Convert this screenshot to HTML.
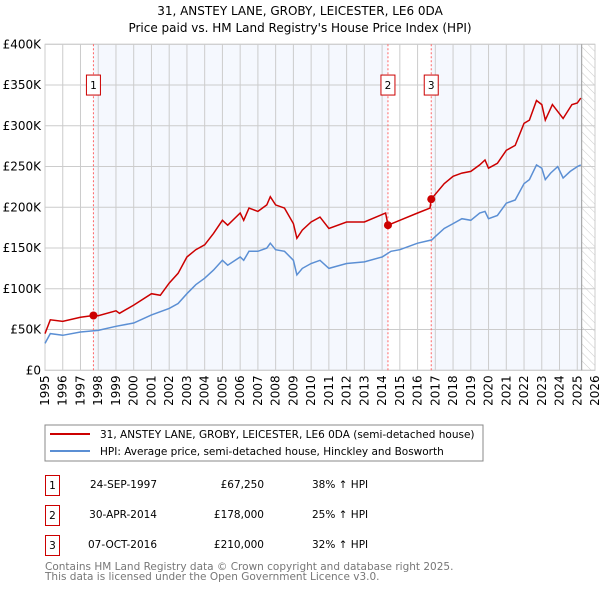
<!DOCTYPE html>
<html><head><meta charset="utf-8"><style>
body{margin:0;background:#fff;font-family:"DejaVu Sans","Liberation Sans",sans-serif;}
svg text{font-family:"DejaVu Sans","Liberation Sans",sans-serif;}
</style></head><body>
<svg id="c" width="600" height="590" xmlns="http://www.w3.org/2000/svg">
<defs><pattern id="hatch" width="6" height="6" patternUnits="userSpaceOnUse" patternTransform="rotate(-45)"><line x1="0" y1="0" x2="0" y2="6" stroke="#ccc" stroke-width="1"/></pattern></defs>
<text x="300" y="15" text-anchor="middle" font-size="12" fill="#000">31, ANSTEY LANE, GROBY, LEICESTER, LE6 0DA</text>
<text x="300" y="32" text-anchor="middle" font-size="12" fill="#000">Price paid vs. HM Land Registry's House Price Index (HPI)</text>
<g id="plot"></g>
<rect x="45" y="425" width="438" height="36" fill="#fff" stroke="#888"/>
<line x1="50" y1="434" x2="90" y2="434" stroke="#cc0000" stroke-width="2"/>
<text x="100" y="438" font-size="10.5">31, ANSTEY LANE, GROBY, LEICESTER, LE6 0DA (semi-detached house)</text>
<line x1="50" y1="451" x2="90" y2="451" stroke="#5b8fd4" stroke-width="2"/>
<text x="100" y="455" font-size="10.5">HPI: Average price, semi-detached house, Hinckley and Bosworth</text>
<g font-size="10.5">
<rect x="45.5" y="475.5" width="14" height="20" fill="none" stroke="#cc0000"/><text x="52.5" y="489" text-anchor="middle">1</text>
<text x="157" y="488" text-anchor="end">24-SEP-1997</text><text x="264" y="488" text-anchor="end">£67,250</text><text x="312" y="488">38% ↑ HPI</text>
<rect x="45.5" y="505.5" width="14" height="20" fill="none" stroke="#cc0000"/><text x="52.5" y="519" text-anchor="middle">2</text>
<text x="157" y="518" text-anchor="end">30-APR-2014</text><text x="264" y="518" text-anchor="end">£178,000</text><text x="312" y="518">25% ↑ HPI</text>
<rect x="45.5" y="535.5" width="14" height="20" fill="none" stroke="#cc0000"/><text x="52.5" y="549" text-anchor="middle">3</text>
<text x="157" y="548" text-anchor="end">07-OCT-2016</text><text x="264" y="548" text-anchor="end">£210,000</text><text x="312" y="548">32% ↑ HPI</text>
</g>
<text x="45" y="570" font-size="10.5" fill="#777">Contains HM Land Registry data © Crown copyright and database right 2025.</text>
<text x="45" y="580" font-size="10.5" fill="#777">This data is licensed under the Open Government Licence v3.0.</text>
</svg>
<script>
const yTicks=[0,50,100,150,200,250,300,350,400];
const yTickLabels=["£0","£50K","£100K","£150K","£200K","£250K","£300K","£350K","£400K"];
const xYears=[1995,1996,1997,1998,1999,2000,2001,2002,2003,2004,2005,2006,2007,2008,2009,2010,2011,2012,2013,2014,2015,2016,2017,2018,2019,2020,2021,2022,2023,2024,2025,2026];
const hpiT=[1995.0,1995.3,1996,1997,1998,1999,2000,2001,2002,2002.5,2003,2003.5,2004,2004.5,2005,2005.3,2006,2006.2,2006.5,2007,2007.5,2007.7,2008,2008.5,2009,2009.2,2009.5,2010,2010.5,2011,2012,2013,2014,2014.5,2015,2016,2016.8,2017,2017.5,2018,2018.5,2019,2019.5,2019.8,2020,2020.5,2021,2021.5,2022,2022.3,2022.7,2023,2023.2,2023.5,2023.9,2024.2,2024.6,2025,2025.2];
const hpiV=[33,45,43,47,49,54,58,68,76,82,94,105,113,123,135,129,139,135,146,146,150,156,148,146,135,117,125,131,135,125,131,133,139,146,148,156,160,164,174,180,186,184,193,195,186,190,205,209,229,234,252,248,234,242,250,236,244,250,252];
const priceT=[1995.0,1995.3,1996,1997,1997.73,1998,1999,1999.2,2000,2001,2001.5,2002,2002.5,2003,2003.5,2004,2004.5,2005,2005.3,2006,2006.2,2006.5,2007,2007.5,2007.7,2008,2008.5,2009,2009.2,2009.5,2010,2010.5,2011,2012,2013,2014.2,2014.33,2015,2016,2016.7,2016.77,2017.5,2018,2018.5,2019,2019.5,2019.8,2020,2020.5,2021,2021.5,2022,2022.3,2022.7,2023,2023.2,2023.6,2024.2,2024.7,2025,2025.2];
const priceV=[45,62,60,65,67.25,67,73,70,80,94,92,107,119,139,148,154,168,184,178,193,184,199,195,203,213,203,199,180,162,172,182,188,174,182,182,193,178,184,193,199,210,229,238,242,244,252,258,248,254,270,276,303,307,331,326,307,326,309,326,328,334];
const saleT=[1997.73,2014.33,2016.77];
const saleV=[67.25,178,210];
const saleLabels=["1","2","3"];
const X0=45,X1=595,Y0=370.3,Y1=44.3;
const xs=t=>X0+(t-1995)/(2026-1995)*(X1-X0);
const ys=v=>Y0-(v/400)*(Y0-Y1);
const NS="http://www.w3.org/2000/svg";
const g=document.getElementById('plot');
function mk(tag,attrs,parent){const e=document.createElementNS(NS,tag);for(const k in attrs)e.setAttribute(k,attrs[k]);(parent||g).appendChild(e);return e;}
let e;
e=mk('rect',{x:xs(saleT[0]),y:Y1,width:xs(saleT[1])-xs(saleT[0]),height:Y0-Y1,fill:'#f5f8fe'});


e=mk('rect',{x:xs(saleT[2]),y:Y1,width:xs(2025.25)-xs(saleT[2]),height:Y0-Y1,fill:'#f5f8fe'});


e=mk('rect',{x:xs(2025.25),y:Y1,width:X1-xs(2025.25),height:Y0-Y1,fill:'url(#hatch)'});


yTicks.forEach((v,i)=>{
  e=mk('line',{x1:X0,x2:X1,y1:ys(v),y2:ys(v),stroke:'#ccc','stroke-width':1});
  
  
  e=mk('text',{x:X0-4,y:ys(v)+4,'text-anchor':'end','font-size':12,fill:'#000'});
  e.textContent=yTickLabels[i];
  
  
});
xYears.forEach(y=>{
  e=mk('line',{x1:xs(y),x2:xs(y),y1:Y1,y2:Y0,stroke:'#ccc','stroke-width':1});
  
  
  e=mk('text',{transform:`translate(${xs(y)+4},${Y0+5}) rotate(-90)`,'text-anchor':'end','font-size':12,fill:'#000'});
  e.textContent=y;
  
  
});
e=mk('rect',{x:X0,y:Y1,width:X1-X0,height:Y0-Y1,fill:'none',stroke:'#ccc'});


e=mk('line',{x1:xs(2025.25),x2:xs(2025.25),y1:Y1,y2:Y0,stroke:'#999','stroke-width':1});


saleT.forEach((t,i)=>{
  e=mk('line',{x1:xs(t),x2:xs(t),y1:Y1,y2:Y0,stroke:'#ff6666','stroke-width':1,'stroke-dasharray':'2,2'});
  
  
  e=mk('rect',{x:xs(t)-7,y:ys(350)-10,width:14,height:20,fill:'#fff',stroke:'#cc0000'});
  
  
  e=mk('text',{x:xs(t),y:ys(350)+4,'text-anchor':'middle','font-size':10.5});
  e.textContent=saleLabels[i];
  
  
});
const pts=(T,V)=>T.map((t,i)=>xs(t).toFixed(1)+','+ys(V[i]).toFixed(1)).join(' ');
e=mk('polyline',{points:pts(hpiT,hpiV),fill:'none',stroke:'#5b8fd4','stroke-width':1.5});


e=mk('polyline',{points:pts(priceT,priceV),fill:'none',stroke:'#cc0000','stroke-width':1.5});


saleT.forEach((t,i)=>{
  e=mk('circle',{cx:xs(t),cy:ys(saleV[i]),r:4,fill:'#cc0000'});
  
  
});
</script>
</body></html>
